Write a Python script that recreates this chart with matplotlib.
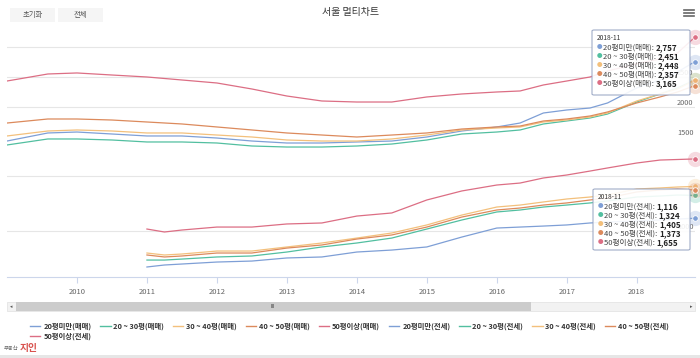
import matplotlib
matplotlib.use('Agg')
import matplotlib.pyplot as plt
from matplotlib.patches import FancyBboxPatch, Rectangle
from matplotlib.lines import Line2D
from matplotlib.transforms import blended_transform_factory

plt.rcParams['font.family'] = ['Noto Sans CJK KR', 'DejaVu Sans']

# --- data (만원/3.3m2) ---
sale_dates = ['2009-01', '2009-08', '2010-01', '2010-07', '2011-01', '2011-07', '2012-01', '2012-07',
              '2013-01', '2013-07', '2014-01', '2014-07', '2015-01', '2015-07', '2016-01', '2016-05',
              '2016-09', '2017-01', '2017-05', '2017-08', '2018-01', '2018-05', '2018-08', '2018-11']
sale_20under = [1433, 1567, 1583, 1550, 1517, 1517, 1483, 1433, 1400, 1400, 1417, 1433, 1500, 1600,
                1667, 1733, 1900, 1950, 1983, 2067, 2317, 2450, 2583, 2757]
sale_20_30 = [1367, 1467, 1467, 1450, 1417, 1417, 1400, 1350, 1333, 1333, 1350, 1383, 1450, 1550,
              1583, 1617, 1717, 1767, 1817, 1883, 2083, 2217, 2317, 2451]
sale_30_40 = [1517, 1600, 1617, 1600, 1567, 1567, 1533, 1500, 1450, 1433, 1433, 1467, 1533, 1617,
              1650, 1667, 1750, 1783, 1833, 1900, 2100, 2217, 2300, 2448]
sale_40_50 = [1733, 1800, 1800, 1783, 1750, 1717, 1667, 1617, 1567, 1533, 1500, 1533, 1567, 1633,
              1667, 1683, 1767, 1800, 1850, 1917, 2067, 2167, 2250, 2357]
sale_50over = [2433, 2550, 2567, 2533, 2500, 2450, 2400, 2300, 2183, 2100, 2083, 2083, 2167, 2217,
               2250, 2267, 2367, 2433, 2500, 2600, 2720, 2800, 2900, 3165]

rent_dates = ['2011-01', '2011-04', '2011-07', '2012-01', '2012-07', '2013-01', '2013-07', '2014-01',
              '2014-07', '2015-01', '2015-07', '2016-01', '2016-05', '2016-09', '2017-01', '2017-05',
              '2017-08', '2018-01', '2018-05', '2018-08', '2018-11']
rent_20under = [673, 691, 700, 718, 727, 755, 764, 809, 827, 855, 945, 1027, 1036, 1045, 1055, 1073,
                1082, 1091, 1100, 1109, 1116]
rent_20_30 = [736, 736, 745, 764, 773, 809, 855, 891, 936, 1018, 1100, 1173, 1191, 1218, 1236, 1255,
              1273, 1309, 1318, 1327, 1324]
rent_30_40 = [800, 782, 791, 818, 818, 855, 891, 936, 982, 1055, 1145, 1218, 1236, 1264, 1291, 1309,
              1327, 1382, 1391, 1400, 1405]
rent_40_50 = [782, 764, 773, 800, 800, 845, 873, 927, 964, 1036, 1127, 1191, 1209, 1236, 1255, 1282,
              1300, 1355, 1373, 1382, 1373]
rent_50over = [1018, 991, 1009, 1036, 1036, 1064, 1073, 1136, 1164, 1282, 1364, 1418, 1436, 1482,
               1509, 1545, 1573, 1618, 1645, 1650, 1655]

sizes = ['20평미만', '20 ~ 30평', '30 ~ 40평', '40 ~ 50평', '50평이상']
colors = ['#7e9fd6', '#52bfa0', '#f3c07c', '#dc8a5c', '#dc6e84']
years = [2010, 2011, 2012, 2013, 2014, 2015, 2016, 2017, 2018]

W, H = 700, 358


def fx(x):
    return x / W


def fy(y):
    return 1 - y / H


def to_year(d):
    y, m = d.split('-')
    return int(y) + (int(m) - 1) / 12


xs_sale = [to_year(d) for d in sale_dates]
xs_rent = [to_year(d) for d in rent_dates]
sale = [sale_20under, sale_20_30, sale_30_40, sale_40_50, sale_50over]
rent = [rent_20under, rent_20_30, rent_30_40, rent_40_50, rent_50over]

fig = plt.figure(figsize=(W / 100, H / 100), dpi=100)

# plot area 7..695 px wide, 30..277 px high
rect = [fx(7), fy(277), (695 - 7) / W, (277 - 30) / H]
ax = fig.add_axes(rect)
ax2 = fig.add_axes(rect, sharex=ax)
ax2.patch.set_visible(False)

ax.set_xlim(2009.0, 2018 + 10 / 12)
ax.set_ylim(-833, 3283)     # 매매 axis
ax2.set_ylim(582, 2827)     # 전세 axis

grid_c = '#e6e6e6'
for v in [2000, 2500, 3000]:
    ax.axhline(v, color=grid_c, lw=0.8, zorder=0)
for v in [1000, 1500]:
    ax2.axhline(v, color=grid_c, lw=0.8, zorder=0)

for a in (ax, ax2):
    for s in ['top', 'left', 'right', 'bottom']:
        a.spines[s].set_visible(False)
    a.set_yticks([])
ax.spines['bottom'].set_visible(True)
ax.spines['bottom'].set_color('#ccd6eb')
ax.spines['bottom'].set_linewidth(0.8)
ax.set_xticks(years)
ax.set_xticklabels([str(y) for y in years])
ax.tick_params(axis='x', direction='out', length=4, width=0.8, color='#ccd6eb',
               labelsize=5.5, labelcolor='#666666', pad=4)
ax2.tick_params(axis='x', length=0, labelbottom=False)

# y labels inside the right edge
tr = blended_transform_factory(ax.transAxes, ax.transData)
for v in [1500, 2000, 2500]:
    ax.text(0.998, v, str(v), transform=tr, ha='right', va='bottom', fontsize=5.3, color='#666666')
tr2 = blended_transform_factory(ax2.transAxes, ax2.transData)
ax2.text(0.998, 1000, '1000', transform=tr2, ha='right', va='bottom', fontsize=5.3, color='#666666')

for i in range(5):
    ax.plot(xs_sale, sale[i], color=colors[i], lw=0.9)
    ax2.plot(xs_rent, rent[i], color=colors[i], lw=0.9)
    # hover markers at the last point
    for a, xs, ys in ((ax, xs_sale, sale[i]), (ax2, xs_rent, rent[i])):
        a.plot(xs[-1], ys[-1], 'o', ms=11, color=colors[i], alpha=0.25, mec='none', clip_on=False)
        a.plot(xs[-1], ys[-1], 'o', ms=4, color=colors[i], mec='white', mew=0.6, clip_on=False)

# tooltips
renderer = fig.canvas.get_renderer()


def tooltip(x0, y0, w, h, kind, values):
    box = FancyBboxPatch((fx(x0), fy(y0 + h)), w / W, h / H,
                         boxstyle='round,pad=0,rounding_size=0.003', transform=fig.transFigure,
                         fc='white', ec='#97a4c2', lw=0.8, alpha=0.9, zorder=5)
    fig.add_artist(box)
    fig.text(fx(x0 + 5), fy(y0 + 8), '2018-11', fontsize=4.8, color='#333333', va='center', zorder=6)
    for i in range(5):
        yy = fy(y0 + 17.5 + 9 * i)
        fig.text(fx(x0 + 5), yy, '●', fontsize=4, color=colors[i], va='center', zorder=6)
        t = fig.text(fx(x0 + 11), yy, f'{sizes[i]}({kind}): ', fontsize=5.5, color='#444444',
                     va='center', zorder=6)
        wpx = t.get_window_extent(renderer).width
        fig.text(fx(x0 + 11 + wpx), yy, f'{values[i]:,}', fontsize=5.8, fontweight='bold',
                 color='#222222', va='center', zorder=6)


tooltip(592, 30, 98, 65, '매매', [s[-1] for s in sale])
tooltip(593, 189, 97, 61, '전세', [r[-1] for r in rent])

# legend
handles = [Line2D([], [], color=colors[i], lw=1) for i in range(5)] * 2
labels = [f'{s}(매매)' for s in sizes] + [f'{s}(전세)' for s in sizes]
order = [0, 9, 1, 2, 3, 4, 5, 6, 7, 8]
leg = fig.legend([handles[k] for k in order], [labels[k] for k in order], ncol=9,
                 loc='upper left', bbox_to_anchor=(fx(30), fy(323)), frameon=False,
                 prop={'size': 5.3, 'weight': 'bold'}, handlelength=1.4, handletextpad=0.4,
                 columnspacing=1.2, labelspacing=0.35, borderaxespad=0, borderpad=0)
for t in leg.get_texts():
    t.set_color('#333333')

# header: buttons, title, menu
for bx, bw, lab in [(10, 45, '초기화'), (58, 45, '전체')]:
    fig.add_artist(Rectangle((fx(bx), fy(22)), bw / W, 14 / H, transform=fig.transFigure,
                             fc='#f5f5f5', ec='none'))
    fig.text(fx(bx + bw / 2), fy(15), lab, fontsize=5.3, color='#555555', ha='center', va='center')
fig.text(0.5, fy(12), '서울 멀티차트', fontsize=7.2, color='#333333', ha='center', va='center')
for yy in [10, 13, 16]:
    fig.add_artist(Line2D([fx(684), fx(694)], [fy(yy), fy(yy)], color='#666666', lw=1.2))

# scrollbar
fig.add_artist(Rectangle((fx(7), fy(311)), 688 / W, 9 / H, transform=fig.transFigure,
                         fc='#f2f2f2', ec='#e0e0e0', lw=0.5))
fig.add_artist(Rectangle((fx(16), fy(311)), 515 / W, 9 / H, transform=fig.transFigure,
                         fc='#cccccc', ec='none'))
fig.text(fx(273), fy(306.5), 'III', fontsize=3.5, color='#333333', ha='center', va='center')
fig.text(fx(11), fy(306.5), '◂', fontsize=3.5, color='#555555', ha='center', va='center')
fig.text(fx(691), fy(306.5), '▸', fontsize=3.5, color='#555555', ha='center', va='center')

# logo and bottom band
fig.text(fx(4), fy(349), '부동산', fontsize=3.8, color='#666666', va='center')
fig.text(fx(20), fy(348), '지인', fontsize=7, color='#d9534f', fontweight='bold', va='center')
fig.add_artist(Rectangle((0, 0), 1, 3 / H, transform=fig.transFigure, fc='#e6e6e6', ec='none'))

fig.savefig('out.png', dpi=100)
